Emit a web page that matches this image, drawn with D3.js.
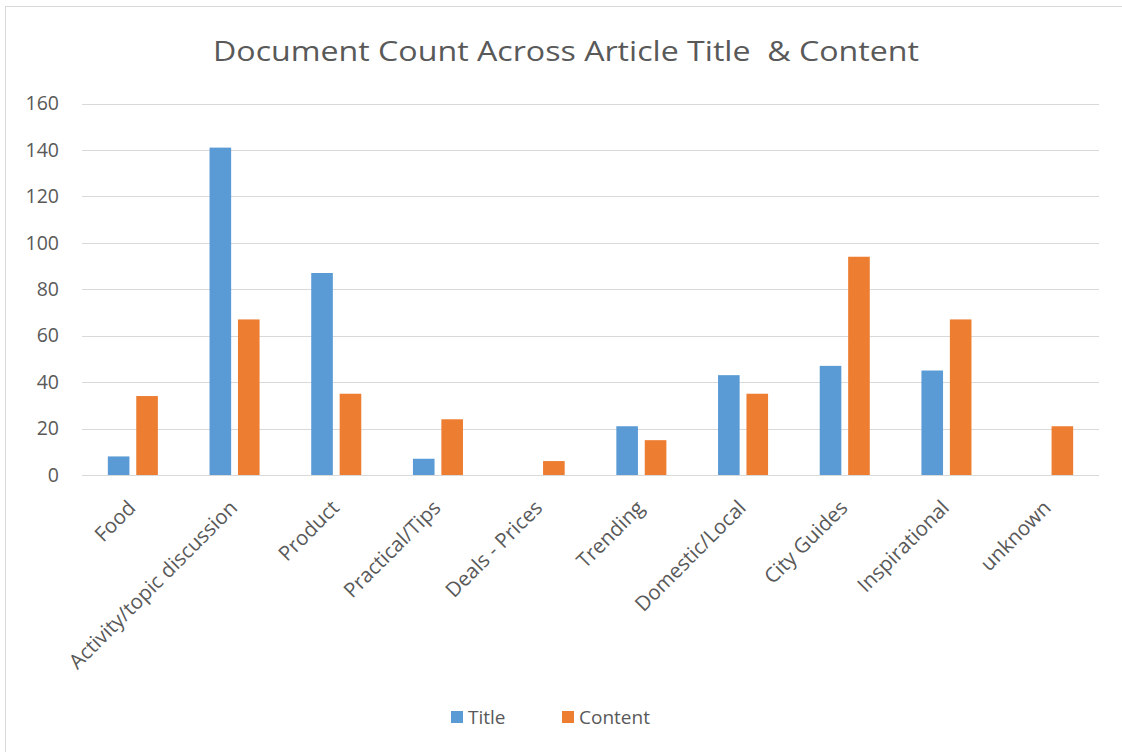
<!DOCTYPE html>
<html>
<head>
<meta charset="utf-8">
<script src="https://cdn.jsdelivr.net/npm/d3@7"></script>
<style>
  html, body { margin: 0; padding: 0; background: #ffffff; }
  svg text { font-family: "Open Sans", "Noto Sans", sans-serif; fill: #595959; }
</style>
</head>
<body>
<svg id="chart" width="1122" height="752"></svg>
<script>
// Document categories along the x axis
const categories = [
  "Food", "Activity/topic discussion", "Product", "Practical/Tips", "Deals - Prices",
  "Trending", "Domestic/Local", "City Guides", "Inspirational", "unknown"
];
// Series names and their values per category
const seriesNames = ["Title", "Content"];
const titleCounts   = [8, 141, 87, 7, 0, 21, 43, 47, 45, 0];
const contentCounts = [34, 67, 35, 24, 6, 15, 35, 94, 67, 21];
// Y axis ticks
const yTicks = [0, 20, 40, 60, 80, 100, 120, 140, 160];

const colors = { Title: "#5B9BD5", Content: "#ED7D31" };

const svg = d3.select("#chart");
const W = 1122, H = 752;
const plot = { left: 82, right: 1099, top: 103.5, bottom: 475 };

// Chart area frame
svg.append("rect")
  .attr("x", 5.5).attr("y", 6.5)
  .attr("width", W + 10).attr("height", H + 10)
  .attr("fill", "#ffffff").attr("stroke", "#d9d9d9").attr("stroke-width", 1);

// Title
svg.append("text")
  .attr("x", 566).attr("y", 61)
  .attr("text-anchor", "middle")
  .style("font-size", "27px")
  .style("white-space", "pre")
  .attr("textLength", 706)
  .attr("lengthAdjust", "spacingAndGlyphs")
  .text("Document Count Across Article Title  & Content");

const y = d3.scaleLinear().domain([0, 160]).range([plot.bottom, plot.top]);
const x0 = d3.scaleBand().domain(categories).range([plot.left, plot.right]).padding(0);
const step = x0.step();
const x1 = d3.scaleBand().domain(seriesNames)
  .range([step * 0.254, step * 0.746]).paddingInner(0.24).paddingOuter(0);

// Horizontal gridlines
svg.append("g")
  .selectAll("line")
  .data(yTicks)
  .join("line")
  .attr("x1", plot.left).attr("x2", plot.right)
  .attr("y1", d => Math.round(y(d)) + 0.5).attr("y2", d => Math.round(y(d)) + 0.5)
  .attr("stroke", "#d9d9d9").attr("stroke-width", 1.2);

// Y axis labels
const yAxis = d3.axisLeft(y).tickValues(yTicks).tickSize(0).tickPadding(0);
const gy = svg.append("g").attr("transform", `translate(${59},0)`).call(yAxis);
gy.select(".domain").remove();
gy.selectAll("text")
  .style("font-size", "19.5px")
  .style("fill", "#595959")
  .style("font-family", "'Open Sans', sans-serif");

// Bars
const rows = categories.map((c, i) => ({ category: c, Title: titleCounts[i], Content: contentCounts[i] }));
const groups = svg.append("g")
  .selectAll("g")
  .data(rows)
  .join("g")
  .attr("transform", d => `translate(${x0(d.category)},0)`);

groups.selectAll("rect")
  .data(d => seriesNames.map(s => ({ key: s, value: d[s] })).filter(e => e.value > 0))
  .join("rect")
  .attr("x", d => x1(d.key))
  .attr("width", x1.bandwidth())
  .attr("y", d => y(d.value))
  .attr("height", d => y(0) - y(d.value))
  .attr("fill", d => colors[d.key]);

// X axis category labels, rotated
const xAxis = d3.axisBottom(x0).tickSize(0).tickPadding(0);
const gx = svg.append("g").attr("transform", `translate(0,${plot.bottom})`).call(xAxis);
gx.select(".domain").remove();
gx.selectAll(".tick text")
  .attr("y", 0).attr("dy", "0.35em")
  .attr("text-anchor", "end")
  .attr("transform", "translate(-1,29) rotate(-45)")
  .style("font-size", "20.5px")
  .style("fill", "#595959")
  .style("font-family", "'Open Sans', sans-serif");

// Legend
const legend = svg.append("g");
const legendItems = [
  { name: "Title", sx: 451, tx: 468 },
  { name: "Content", sx: 562, tx: 579 }
];
legend.selectAll("rect")
  .data(legendItems)
  .join("rect")
  .attr("x", d => d.sx).attr("y", 711)
  .attr("width", 12).attr("height", 12)
  .attr("fill", d => colors[d.name]);
legend.selectAll("text")
  .data(legendItems)
  .join("text")
  .attr("x", d => d.tx).attr("y", 724)
  .style("font-size", "19px")
  .text(d => d.name);
</script>
</body>
</html>
